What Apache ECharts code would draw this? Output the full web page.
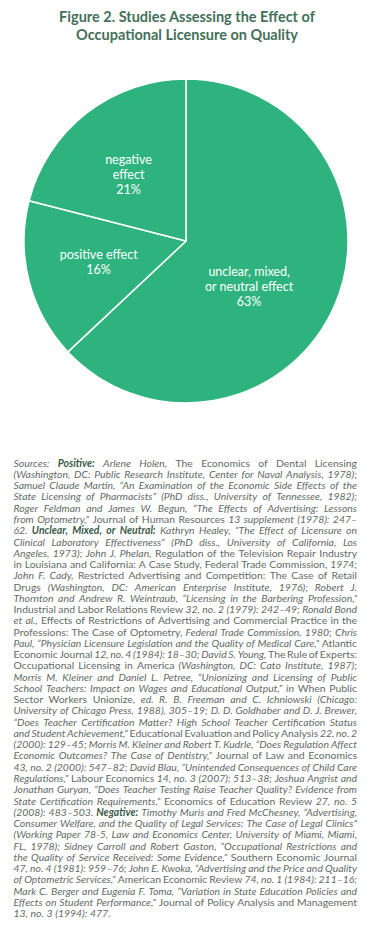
<!DOCTYPE html>
<html><head><meta charset="utf-8">
<script src="https://cdn.jsdelivr.net/npm/echarts@6/dist/echarts.min.js"></script>
<style>html,body{margin:0;padding:0;background:#fff}#c{width:374px;height:931px}</style>
</head><body><div id="c"></div>
<script>
const titleText = 'Figure 2. Studies Assessing the Effect of\nOccupational Licensure on Quality';
const categories = ['unclear, mixed,\nor neutral effect', 'positive effect', 'negative\neffect'];
const values = [63, 16, 21];
// {i|..} italic, {b|..} bold italic, plain = regular
const sourceLines = [
  '{i|Sources: }{b|Positive:}{i| Arlene Holen,} The Economics of Dental Licensing',
  '{i|(Washington, DC: Public Research Institute, Center for Naval Analysis, 1978);}',
  '{i|Samuel Claude Martin, “An Examination of the Economic Side Effects of the}',
  '{i|State Licensing of Pharmacists” (PhD diss., University of Tennessee, 1982);}',
  '{i|Roger Feldman and James W. Begun, “The Effects of Advertising: Lessons}',
  '{i|from Optometry,”} Journal of Human Resources {i|13 supplement (1978): 247–}',
  '{i|62. }{b|Unclear, Mixed, or Neutral:}{i| Kathryn Healey, “The Effect of Licensure on}',
  '{i|Clinical Laboratory Effectiveness” (PhD diss., University of California, Los}',
  '{i|Angeles, 1973); John J. Phelan,} Regulation of the Television Repair Industry',
  'in Louisiana and California: A Case Study, Federal Trade Commission, {i|1974;}',
  '{i|John F. Cady,} Restricted Advertising and Competition: The Case of Retail',
  'Drugs {i|(Washington, DC: American Enterprise Institute, 1976); Robert J.}',
  '{i|Thornton and Andrew R. Weintraub, “Licensing in the Barbering Profession,”}',
  'Industrial and Labor Relations Review {i|32, no. 2 (1979): 242–49; Ronald Bond}',
  '{i|et al.,} Effects of Restrictions of Advertising and Commercial Practice in the',
  'Professions: The Case of Optometry, {i|Federal Trade Commission, 1980; Chris}',
  '{i|Paul, “Physician Licensure Legislation and the Quality of Medical Care,”} Atlantic',
  'Economic Journal {i|12, no. 4 (1984): 18–30; David S. Young,} The Rule of Experts:',
  'Occupational Licensing in America {i|(Washington, DC: Cato Institute, 1987);}',
  '{i|Morris M. Kleiner and Daniel L. Petree, “Unionizing and Licensing of Public}',
  '{i|School Teachers: Impact on Wages and Educational Output,” in} When Public',
  'Sector Workers Unionize, {i|ed. R. B. Freeman and C. Ichniowski (Chicago:}',
  '{i|University of Chicago Press, 1988), 305–19; D. D. Goldhaber and D. J. Brewer,}',
  '{i|“Does Teacher Certification Matter? High School Teacher Certification Status}',
  '{i|and Student Achievement,”} Educational Evaluation and Policy Analysis {i|22, no. 2}',
  '{i|(2000): 129–45; Morris M. Kleiner and Robert T. Kudrle, “Does Regulation Affect}',
  '{i|Economic Outcomes? The Case of Dentistry,”} Journal of Law and Economics',
  '{i|43, no. 2 (2000): 547–82; David Blau, “Unintended Consequences of Child Care}',
  '{i|Regulations,”} Labour Economics {i|14, no. 3 (2007): 513–38; Joshua Angrist and}',
  '{i|Jonathan Guryan, “Does Teacher Testing Raise Teacher Quality? Evidence from}',
  '{i|State Certification Requirements,”} Economics of Education Review {i|27, no. 5}',
  '{i|(2008): 483–503. }{b|Negative:}{i| Timothy Muris and Fred McChesney, “Advertising,}',
  '{i|Consumer Welfare, and the Quality of Legal Services: The Case of Legal Clinics”}',
  '{i|(Working Paper 78-5, Law and Economics Center, University of Miami, Miami,}',
  '{i|FL, 1978); Sidney Carroll and Robert Gaston, “Occupational Restrictions and}',
  '{i|the Quality of Service Received: Some Evidence,”} Southern Economic Journal',
  '{i|47, no. 4 (1981): 959–76; John E. Kwoka, “Advertising and the Price and Quality}',
  '{i|of Optometric Services,”} American Economic Review {i|74, no. 1 (1984): 211–16;}',
  '{i|Mark C. Berger and Eugenia F. Toma, “Variation in State Education Policies and}',
  '{i|Effects on Student Performance,”} Journal of Policy Analysis and Management',
  '{i|13, no. 3 (1994): 477.}'
];

const FONT = 'Lato';
const GREY = '#646b67';
const DARK = '#3b5a4a';
const STY = {
  n: {fontStyle: 'normal', fontWeight: 400, fill: GREY},
  i: {fontStyle: 'italic', fontWeight: 400, fill: GREY},
  b: {fontStyle: 'italic', fontWeight: 700, fill: DARK}
};
const ctx = document.createElement('canvas').getContext('2d');
function measure(t, st, fs) {
  ctx.font = STY[st].fontStyle + ' ' + STY[st].fontWeight + ' ' + fs + 'px ' + FONT;
  return ctx.measureText(t).width;
}
function parseLine(s) {
  const re = /\{([ib])\|([^}]*)\}/g; const out = []; let last = 0, m;
  while ((m = re.exec(s))) {
    if (m.index > last) out.push({t: s.slice(last, m.index), st: 'n'});
    out.push({t: m[2], st: m[1]}); last = re.lastIndex;
  }
  if (last < s.length) out.push({t: s.slice(last), st: 'n'});
  return out;
}
function toWords(segs) {
  const words = [[]];
  segs.forEach(sg => {
    sg.t.split(' ').forEach((p, k) => {
      if (k > 0) words.push([]);
      if (p) words[words.length - 1].push({t: p, st: sg.st});
    });
  });
  return words.filter(w => w.length);
}
const LEFT = 13.5, RIGHT = 357, TOP = 462.7, LH = 11.26;
const W = RIGHT - LEFT;
const lineWords = sourceLines.map(l => toWords(parseLine(l)));
// fit font size
let maxNat = 0;
lineWords.forEach(ws => {
  let s = 0; ws.forEach(w => w.forEach(p => s += measure(p.t, p.st, 10)));
  s += (ws.length - 1) * measure(' ', 'n', 10) * 0.6;
  maxNat = Math.max(maxNat, s);
});
const FS = Math.min(10.5, 10 * W / maxNat);
const graphics = [];
lineWords.forEach((ws, li) => {
  const y = TOP + li * LH;
  const widths = ws.map(w => w.reduce((a, p) => a + measure(p.t, p.st, FS), 0));
  const total = widths.reduce((a, b) => a + b, 0);
  const last = li === lineWords.length - 1;
  const gap = last ? measure(' ', 'n', FS) : (W - total) / Math.max(1, ws.length - 1);
  let x = LEFT;
  ws.forEach((w, wi) => {
    let px = x;
    w.forEach(p => {
      graphics.push({
        type: 'text', x: px, y: y, silent: true,
        style: {text: p.t, fontFamily: FONT, fontSize: FS, fontStyle: STY[p.st].fontStyle,
          fontWeight: STY[p.st].fontWeight, fill: STY[p.st].fill, textAlign: 'left', textVerticalAlign: 'middle'}
      });
      px += measure(p.t, p.st, FS);
    });
    x += widths[wi] + gap;
  });
});

const labelShift = [[0, 28, 0, 0], [0, 12, 0, 0], [0, 12, 0, 0]];
const labelFmt = ['{s| }\n{b}\n{c}%', '{b}\n{c}%', '{b}\n{c}%'];

const chart = echarts.init(document.getElementById('c'), null, {renderer: 'svg'});
chart.setOption({
  animation: false,
  backgroundColor: '#ffffff',
  title: {
    text: titleText, left: 'center', top: 3,
    textStyle: {fontFamily: FONT, fontWeight: 700, fontSize: 14.5, lineHeight: 17.5, color: '#44705a'}
  },
  series: [{
    type: 'pie', center: [186, 241], radius: 162, startAngle: 90, clockwise: true,
    silent: true,
    itemStyle: {color: '#2eb37e', borderColor: '#ffffff', borderWidth: 1.5},
    label: {show: true, position: 'inside', formatter: '{b}\n{c}%', color: '#ffffff',
      fontFamily: FONT, fontSize: 12.5, lineHeight: 15,
      rich: {s: {fontSize: 2, lineHeight: 24}}},
    labelLine: {show: false},
    data: categories.map((c, i) => ({name: c, value: values[i],
      label: {padding: labelShift[i], formatter: labelFmt[i]}}))
  }],
  graphic: graphics
});
</script></body></html>
